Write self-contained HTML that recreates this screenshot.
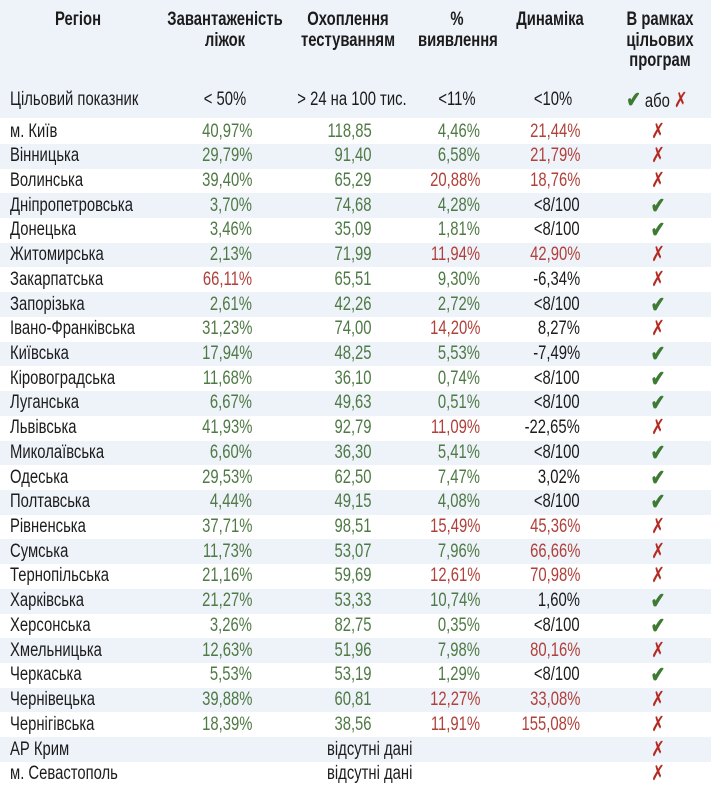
<!DOCTYPE html>
<html><head><meta charset="utf-8"><style>
body{margin:0;width:711px;height:797px;background:#fff;position:relative;overflow:hidden;font-family:"Liberation Sans",sans-serif;font-size:19px;color:#1c1c1c}
.hd{position:absolute;left:0;top:0;width:711px;height:118px;background:#eef2f9}
.b{position:absolute;left:0;width:711px;height:24.7px;background:#eef2f9}
.t{position:absolute;white-space:nowrap;line-height:20px;transform:scaleX(.78);transform-origin:left center}
.rt{transform-origin:right center}
.ct{transform-origin:center center}
.h{font-weight:bold;text-align:center;line-height:20.5px;font-size:19px;transform:scaleX(.78);transform-origin:center}
.g{color:#4f7a45}.r{color:#b0413a}
.ck{color:#3d7a32;font-weight:bold;font-size:22px}.x{color:#b22a22;font-size:21px}
</style></head><body>
<div class="hd"></div>
<div class="t h" style="left:28px;top:10px;width:100px">Регіон</div>
<div class="t h" style="left:145px;top:10px;width:160px">Завантаженість<br>ліжок</div>
<div class="t h" style="left:283px;top:10px;width:130px">Охоплення<br>тестуванням</div>
<div class="t h" style="left:407px;top:10px;width:100px">%<br>виявлення</div>
<div class="t h" style="left:500px;top:10px;width:100px">Динаміка</div>
<div class="t h" style="left:610px;top:10px;width:100px">В рамках<br>цільових<br>програм</div>
<div class="t" style="left:10px;top:90px">Цільовий показник</div>
<div class="t ct" style="left:175px;top:90px;width:100px;text-align:center">&lt; 50%</div>
<div class="t ct" style="left:283px;top:90px;width:130px;text-align:center">&gt; 24 на 100 тис.</div>
<div class="t ct" style="left:407px;top:90px;width:100px;text-align:center">&lt;11%</div>
<div class="t ct" style="left:503px;top:90px;width:100px;text-align:center">&lt;10%</div>
<div class="t ct" style="left:597px;top:90px;width:120px;text-align:center"><span class="ck">✔</span> або <span class="x">✗</span></div>
<div id="rows"></div>
<script>
var d=[
["м. Київ","40,97%","g","118,85","g","4,46%","g","21,44%","r",0],
["Вінницька","29,79%","g","91,40","g","6,58%","g","21,79%","r",0],
["Волинська","39,40%","g","65,29","g","20,88%","r","18,76%","r",0],
["Дніпропетровська","3,70%","g","74,68","g","4,28%","g","<8/100","",1],
["Донецька","3,46%","g","35,09","g","1,81%","g","<8/100","",1],
["Житомирська","2,13%","g","71,99","g","11,94%","r","42,90%","r",0],
["Закарпатська","66,11%","r","65,51","g","9,30%","g","-6,34%","",0],
["Запорізька","2,61%","g","42,26","g","2,72%","g","<8/100","",1],
["Івано-Франківська","31,23%","g","74,00","g","14,20%","r","8,27%","",0],
["Київська","17,94%","g","48,25","g","5,53%","g","-7,49%","",1],
["Кіровоградська","11,68%","g","36,10","g","0,74%","g","<8/100","",1],
["Луганська","6,67%","g","49,63","g","0,51%","g","<8/100","",1],
["Львівська","41,93%","g","92,79","g","11,09%","r","-22,65%","",0],
["Миколаївська","6,60%","g","36,30","g","5,41%","g","<8/100","",1],
["Одеська","29,53%","g","62,50","g","7,47%","g","3,02%","",1],
["Полтавська","4,44%","g","49,15","g","4,08%","g","<8/100","",1],
["Рівненська","37,71%","g","98,51","g","15,49%","r","45,36%","r",0],
["Сумська","11,73%","g","53,07","g","7,96%","g","66,66%","r",0],
["Тернопільська","21,16%","g","59,69","g","12,61%","r","70,98%","r",0],
["Харківська","21,27%","g","53,33","g","10,74%","g","1,60%","",1],
["Херсонська","3,26%","g","82,75","g","0,35%","g","<8/100","",1],
["Хмельницька","12,63%","g","51,96","g","7,98%","g","80,16%","r",0],
["Черкаська","5,53%","g","53,19","g","1,29%","g","<8/100","",1],
["Чернівецька","39,88%","g","60,81","g","12,27%","r","33,08%","r",0],
["Чернігівська","18,39%","g","38,56","g","11,91%","r","155,08%","r",0],
["АР Крим",null],["м. Севастополь",null]];
var h="";
function esc(s){return s.replace(/</g,"&lt;");}
d.forEach(function(r,i){
 var c0=131.5+24.72*i, top=c0-12.35, ty=c0-10;
 if(i%2==1)h+='<div class="b" style="top:'+top+'px"></div>';
 h+='<div class="t" style="left:10px;top:'+ty+'px">'+r[0]+'</div>';
 if(r[1]===null){
  h+='<div class="t" style="left:327px;top:'+ty+'px">відсутні дані</div>';
  h+='<div class="t ct x" style="left:638px;top:'+ty+'px;width:40px;text-align:center">✗</div>';
 }else{
  var cols=[[252,1],[372,3],[480,5],[580,7]];
  cols.forEach(function(c){h+='<div class="t rt '+r[c[1]+1]+'" style="right:'+(711-c[0])+'px;top:'+ty+'px">'+esc(r[c[1]])+'</div>';});
  h+= r[9]?'<div class="t ct ck" style="left:638px;top:'+ty+'px;width:40px;text-align:center">✔</div>'
          :'<div class="t ct x" style="left:638px;top:'+ty+'px;width:40px;text-align:center">✗</div>';
 }
});
document.getElementById("rows").innerHTML=h;
</script>
</body></html>
